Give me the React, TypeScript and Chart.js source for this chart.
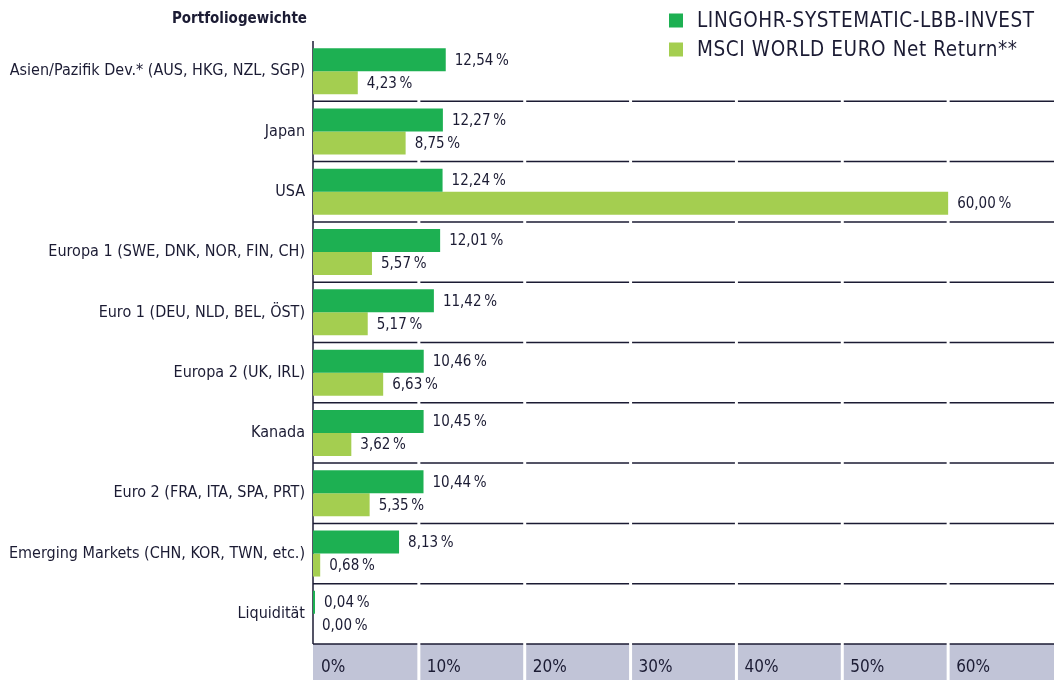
import React, { useEffect, useRef } from "react";
import { Chart, registerables } from "chart.js";

Chart.register(...registerables);

const categories = [
  "Asien/Pazifik Dev.* (AUS, HKG, NZL, SGP)",
  "Japan",
  "USA",
  "Europa 1 (SWE, DNK, NOR, FIN, CH)",
  "Euro 1 (DEU, NLD, BEL, ÖST)",
  "Europa 2 (UK, IRL)",
  "Kanada",
  "Euro 2 (FRA, ITA, SPA, PRT)",
  "Emerging Markets (CHN, KOR, TWN, etc.)",
  "Liquidität",
];
const lingohrValues = [12.54, 12.27, 12.24, 12.01, 11.42, 10.46, 10.45, 10.44, 8.13, 0.04];
const msciValues = [4.23, 8.75, 60.0, 5.57, 5.17, 6.63, 3.62, 5.35, 0.68, 0.0];
const seriesNames = ["LINGOHR-SYSTEMATIC-LBB-INVEST", "MSCI WORLD EURO Net Return**"];
const tickValues = [0, 10, 20, 30, 40, 50, 60];
const axisTitle = "Portfoliogewichte";

const FONT = "'Liberation Sans Narrow', 'DejaVu Sans Condensed', 'Roboto', sans-serif";
const TEXT = "#1b1b33";
const GREEN = "#1db052";
const LIGHT = "#a4ce50";
const BAND = "#c1c4d7";

const fmt = (v: number) => v.toFixed(2).replace(".", ",") + "\u2009%";

const decor = {
  id: "decor",
  beforeDraw(chart: any) {
    const ctx = chart.ctx;
    const { left, right, top, bottom } = chart.chartArea;
    const xs = chart.scales.x;
    ctx.save();
    ctx.fillStyle = BAND;
    ctx.fillRect(left, bottom, right - left, chart.height - bottom);
    const n = categories.length;
    const step = (bottom - top) / n;
    ctx.strokeStyle = TEXT;
    ctx.lineWidth = 1.5;
    for (let i = 1; i <= n; i++) {
      const yy = top + i * step;
      ctx.beginPath();
      ctx.moveTo(left, yy);
      ctx.lineTo(right, yy);
      ctx.stroke();
    }
    ctx.beginPath();
    ctx.moveTo(left, top);
    ctx.lineTo(left, bottom);
    ctx.stroke();
    ctx.strokeStyle = "#ffffff";
    ctx.lineWidth = 3;
    for (const t of tickValues.slice(1)) {
      const xx = xs.getPixelForValue(t);
      ctx.beginPath();
      ctx.moveTo(xx, top);
      ctx.lineTo(xx, chart.height);
      ctx.stroke();
    }
    ctx.restore();
  },
  afterDatasetsDraw(chart: any) {
    const ctx = chart.ctx;
    ctx.save();
    ctx.fillStyle = TEXT;
    ctx.textBaseline = "middle";
    ctx.textAlign = "left";
    ctx.font = `15px ${FONT}`;
    chart.data.datasets.forEach((ds: any, di: number) => {
      const meta = chart.getDatasetMeta(di);
      meta.data.forEach((bar: any, i: number) => {
        const v = ds.data[i];
        ctx.fillText(fmt(v), bar.x + 9, bar.y + 1);
      });
    });
    // title
    ctx.font = `bold 15px ${FONT}`;
    ctx.textAlign = "right";
    ctx.fillText(axisTitle, chart.chartArea.left - 6, 19);
    // legend
    const colors = [GREEN, LIGHT];
    const ys = [20.5, 49.5];
    ctx.textAlign = "left";
    ctx.font = `20.5px ${FONT}`;
    try { (ctx as any).letterSpacing = "0.6px"; } catch (e) {}
    seriesNames.forEach((name, i) => {
      ctx.fillStyle = colors[i];
      ctx.fillRect(669, ys[i] - 7, 14, 14);
      ctx.fillStyle = TEXT;
      ctx.fillText(name, 697, ys[i] + 1);
    });
    ctx.restore();
  },
};

export default function App() {
  const ref = useRef<HTMLCanvasElement | null>(null);
  useEffect(() => {
    document.body.style.margin = "0";
    const chart = new Chart(ref.current as HTMLCanvasElement, {
      type: "bar",
      data: {
        labels: categories,
        datasets: [
          { label: seriesNames[0], data: lingohrValues, backgroundColor: GREEN, minBarLength: 2 },
          { label: seriesNames[1], data: msciValues, backgroundColor: LIGHT },
        ],
      },
      options: {
        indexAxis: "y",
        animation: false,
        responsive: false,
        maintainAspectRatio: false,
        categoryPercentage: 0.7625,
        barPercentage: 1.0,
        layout: { padding: { top: 41, right: 5, left: 0, bottom: 0 } },
        plugins: { legend: { display: false }, tooltip: { enabled: false } },
        scales: {
          x: {
            min: 0,
            max: 70,
            afterFit: (s: any) => { s.height = 36; s.paddingLeft = 0; s.paddingRight = 0; },
            afterBuildTicks: (s: any) => { s.ticks = [0, 10, 20, 30, 40, 50, 60, 70].map((v) => ({ value: v })); },
            grid: { display: false },
            border: { display: false },
            ticks: {
              align: "start",
              labelOffset: 8,
              padding: 5,
              color: TEXT,
              font: { family: FONT, size: 17 },
              maxRotation: 0,
              autoSkip: false,
              callback: (v: any) => (tickValues.includes(Number(v)) ? `${v}%` : ""),
            },
          },
          y: {
            afterFit: (s: any) => { s.width = 313; },
            grid: { display: false },
            border: { display: false },
            ticks: { padding: 0, color: TEXT, font: { family: FONT, size: 16 }, autoSkip: false },
          },
        },
      },
      plugins: [decor],
    } as any);
    return () => chart.destroy();
  }, []);
  return (
    <div style={{ width: 1059, height: 680, position: "relative" }}>
      <canvas ref={ref} width={1059} height={680} style={{ display: "block" }} />
    </div>
  );
}
